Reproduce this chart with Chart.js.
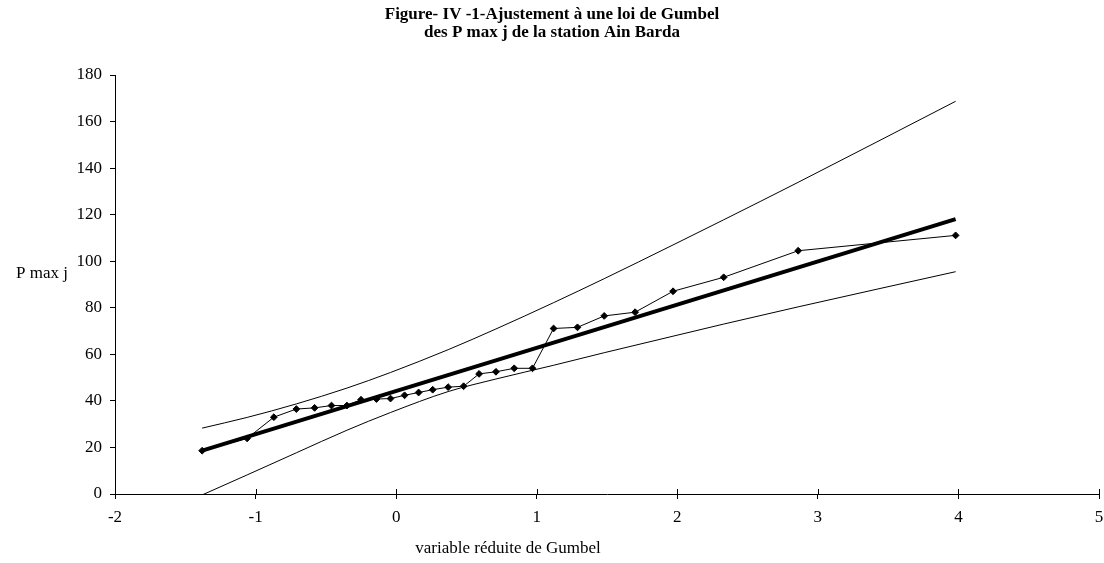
<!DOCTYPE html>
<html>
<head>
<meta charset="utf-8">
<script src="https://cdn.jsdelivr.net/npm/chart.js@4.4.1/dist/chart.umd.min.js"></script>
<style>
  html, body { margin: 0; padding: 0; background: #ffffff; }
  #wrap { width: 1104px; height: 563px; }
</style>
</head>
<body>
<div id="wrap"><canvas id="c" width="1104" height="563"></canvas></div>
<script>
// ---- Data ----
const TITLE_LINES = ['Figure- IV -1-Ajustement à une loi de Gumbel', 'des P max j de la station Ain Barda'];
const X_TITLE = 'variable réduite de Gumbel';
const Y_TITLE = 'P max j';

const X_TICKS = [-2, -1, 0, 1, 2, 3, 4, 5];
const Y_TICKS = [0, 20, 40, 60, 80, 100, 120, 140, 160, 180];

// observed maxima (reduced variable, P max j)
const obsU = [-1.38, -1.06, -0.87, -0.71, -0.58, -0.46, -0.35, -0.25, -0.14, -0.04,
              0.06, 0.16, 0.26, 0.37, 0.48, 0.59, 0.71, 0.84, 0.97, 1.12,
              1.29, 1.48, 1.70, 1.97, 2.33, 2.86, 3.98];
const obsP = [18.6, 23.9, 33.0, 36.5, 37.0, 38.0, 38.0, 40.5, 40.8, 41.0,
              42.4, 43.6, 44.8, 45.9, 46.3, 51.6, 52.5, 54.0, 54.0, 71.1,
              71.6, 76.5, 78.1, 87.1, 93.1, 104.5, 111.1];

// Gumbel fitted line
const fitU = [-1.38, 3.98];
const fitP = [18.6, 118.1];

// confidence bounds
const bandU = [-1.38, -1.06, -0.71, -0.35, -0.04, 0.37, 0.71, 1.12, 1.48, 1.97, 2.33, 2.86, 3.98];
const upperP = [28.3, 32.9, 38.7, 45.5, 52.2, 62.0, 70.9, 82.2, 92.5, 107.0, 117.8, 133.9, 168.7];
const lowerP = [-0.4, 8.2, 17.7, 27.4, 35.0, 44.0, 49.4, 55.3, 60.7, 67.8, 73.0, 80.4, 95.5];

const pts = (xs, ys) => xs.map((x, i) => ({ x: x, y: ys[i] }));

const FONT = 'Liberation Serif';

const textPlugin = {
  id: 'texts',
  afterDraw(chart) {
    const ctx = chart.ctx;
    const area = chart.chartArea;
    const xs = chart.scales.x;
    ctx.save();
    // inward half of the crossing tick marks on the x axis
    ctx.strokeStyle = '#000';
    ctx.lineWidth = 1;
    X_TICKS.forEach(v => {
      const px = Math.round(xs.getPixelForValue(v)) + 0.5;
      ctx.beginPath();
      ctx.moveTo(px, area.bottom);
      ctx.lineTo(px, area.bottom - 5);
      ctx.stroke();
    });
    ctx.fillStyle = '#000';
    ctx.textAlign = 'center';
    ctx.textBaseline = 'middle';
    ctx.font = 'bold 17px "' + FONT + '"';
    ctx.fillText(TITLE_LINES[0], 552, 15);
    ctx.fillText(TITLE_LINES[1], 552, 33);
    ctx.font = '17px "' + FONT + '"';
    ctx.fillText(X_TITLE, 508, 549);
    ctx.fillText(Y_TITLE, 42, 274);
    ctx.restore();
  }
};

new Chart(document.getElementById('c'), {
  type: 'scatter',
  data: {
    datasets: [
      {
        label: 'upper',
        data: pts(bandU, upperP),
        showLine: true,
        borderColor: '#000',
        borderWidth: 1,
        pointRadius: 0,
        cubicInterpolationMode: 'monotone',
        order: 3
      },
      {
        label: 'lower',
        data: pts(bandU, lowerP),
        showLine: true,
        borderColor: '#000',
        borderWidth: 1,
        pointRadius: 0,
        cubicInterpolationMode: 'monotone',
        order: 3
      },
      {
        label: 'fit',
        data: pts(fitU, fitP),
        showLine: true,
        borderColor: '#000',
        borderWidth: 4,
        pointRadius: 0,
        order: 2
      },
      {
        label: 'observed',
        data: pts(obsU, obsP),
        showLine: true,
        borderColor: '#000',
        borderWidth: 1,
        backgroundColor: '#000',
        pointStyle: 'rectRot',
        pointRadius: 3.4,
        pointBorderWidth: 1,
        order: 1
      }
    ]
  },
  options: {
    responsive: false,
    animation: false,
    devicePixelRatio: 1,
    layout: { padding: { left: 0, right: 4, top: 75, bottom: 0 } },
    plugins: {
      legend: { display: false },
      title: { display: false },
      tooltip: { enabled: false }
    },
    scales: {
      x: {
        type: 'linear',
        min: -2,
        max: 5,
        afterBuildTicks: s => { s.ticks = X_TICKS.map(v => ({ value: v })); },
        afterFit: s => { s.height = 69; s.paddingLeft = 0; s.paddingRight = 0; },
        ticks: { color: '#000', font: { family: FONT, size: 17 }, padding: 8, maxRotation: 0 },
        grid: { drawOnChartArea: false, drawTicks: true, tickLength: 5, color: '#000' },
        border: { display: true, color: '#000', width: 1 }
      },
      y: {
        type: 'linear',
        min: 0,
        max: 180,
        afterBuildTicks: s => { s.ticks = Y_TICKS.map(v => ({ value: v })); },
        afterFit: s => { s.width = 115; },
        ticks: { color: '#000', font: { family: FONT, size: 17 }, padding: 8 },
        grid: { drawOnChartArea: false, drawTicks: true, tickLength: 5, color: '#000' },
        border: { display: true, color: '#000', width: 1 }
      }
    }
  },
  plugins: [textPlugin]
});
</script>
</body>
</html>
